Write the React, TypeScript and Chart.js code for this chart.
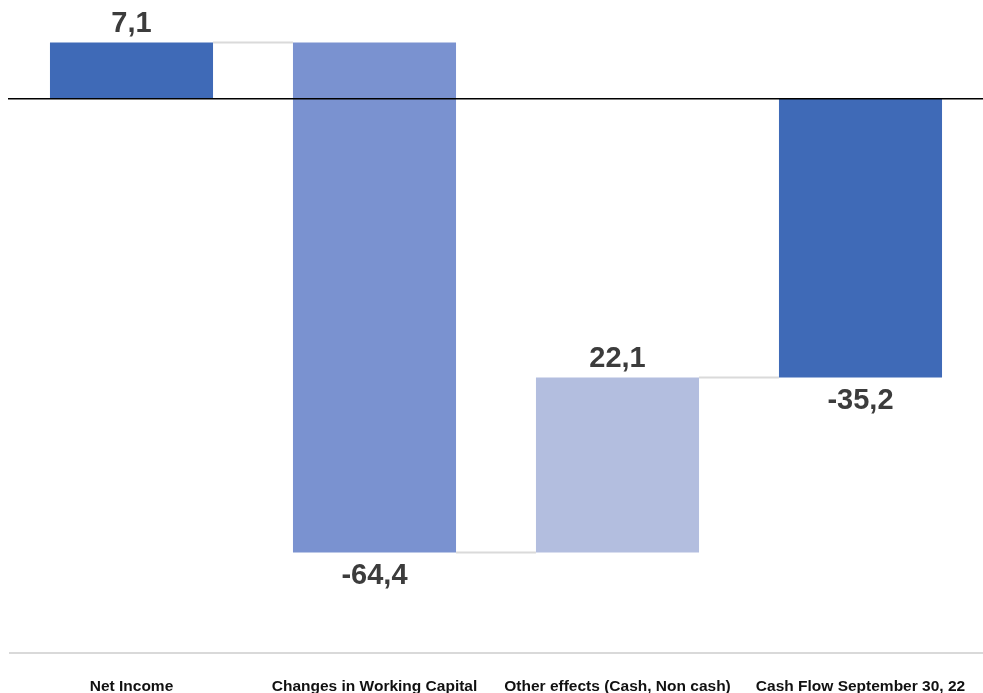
import React, { useEffect, useRef } from "react";
import { Chart, registerables } from "chart.js";

Chart.register(...registerables);

const categories = [
  "Net Income",
  "Changes in Working Capital",
  "Other effects (Cash, Non cash)",
  "Cash Flow September 30, 22",
];
const values = [7.1, -64.4, 22.1, -35.2];
const isTotal = [false, false, false, true];
const barColors = ["#3F6AB7", "#7A92D0", "#B3BEDF", "#3F6AB7"];

const fmt = (v: number) => v.toFixed(1).replace(".", ",");

export default function App() {
  const ref = useRef<HTMLCanvasElement | null>(null);

  useEffect(() => {
    if (!ref.current) return;
    const ranges: [number, number][] = [];
    const ends: number[] = [];
    let run = 0;
    values.forEach((v, i) => {
      if (isTotal[i]) {
        ranges.push([0, v]);
        run = v;
      } else {
        ranges.push([run, run + v]);
        run = run + v;
      }
      ends.push(run);
    });

    const waterfallPlugin = {
      id: "waterfallExtras",
      beforeDatasetsDraw(chart: any) {
        const ctx = chart.ctx;
        const meta = chart.getDatasetMeta(0);
        const y = chart.scales.y;
        ctx.save();
        ctx.strokeStyle = "#DADADA";
        ctx.lineWidth = 2;
        for (let i = 0; i < meta.data.length - 1; i++) {
          const a = meta.data[i] as any;
          const b = meta.data[i + 1] as any;
          const py = Math.round(y.getPixelForValue(ends[i])) + 0.5;
          ctx.beginPath();
          ctx.moveTo(a.x + a.width / 2, py);
          ctx.lineTo(b.x - b.width / 2, py);
          ctx.stroke();
        }
        ctx.restore();
      },
      afterDatasetsDraw(chart: any) {
        const ctx = chart.ctx;
        const meta = chart.getDatasetMeta(0);
        const y = chart.scales.y;
        ctx.save();
        const zy = y.getPixelForValue(0);
        ctx.strokeStyle = "#000";
        ctx.lineWidth = 1.5;
        ctx.beginPath();
        ctx.moveTo(8, zy);
        ctx.lineTo(chart.width, zy);
        ctx.stroke();
        ctx.fillStyle = "#3C3C3C";
        ctx.font = "bold 29px 'Liberation Sans', Arial, sans-serif";
        ctx.textAlign = "center";
        ctx.textBaseline = "middle";
        meta.data.forEach((el: any, i: number) => {
          const v = values[i];
          const [s, e] = ranges[i];
          const top = y.getPixelForValue(Math.max(s, e));
          const bot = y.getPixelForValue(Math.min(s, e));
          const ty = v >= 0 ? top - 18 : bot + 24;
          ctx.fillText(fmt(v), el.x, ty);
        });
        ctx.restore();
      },
    };

    const chart = new Chart(ref.current, {
      type: "bar",
      data: {
        labels: categories,
        datasets: [
          {
            data: ranges as any,
            backgroundColor: barColors,
            borderWidth: 0,
            barPercentage: 0.671,
            categoryPercentage: 1,
          },
        ],
      },
      options: {
        animation: false,
        responsive: false,
        devicePixelRatio: 1,
        layout: { padding: { left: 10, right: 1, top: 4, bottom: 0 } },
        plugins: {
          legend: { display: false },
          tooltip: { enabled: false },
        },
        scales: {
          x: {
            grid: { display: false },
            border: { display: true, color: "#D9D9D9", width: 2 },
            ticks: {
              color: "#111",
              font: { family: "'Liberation Sans', Arial, sans-serif", size: 15.5, weight: "bold" },
              padding: 16,
              maxRotation: 0,
              autoSkip: false,
            },
            afterFit: (scale: any) => {
              scale.height = 40;
            },
          },
          y: {
            display: false,
            min: -70.0,
            max: 11.95,
          },
        },
      },
      plugins: [waterfallPlugin],
    });
    return () => chart.destroy();
  }, []);

  return (
    <div style={{ position: "fixed", left: 0, top: 0, width: 983, height: 693, background: "#fff" }}>
      <canvas ref={ref} width={983} height={693} style={{ width: 983, height: 693 }} />
    </div>
  );
}
